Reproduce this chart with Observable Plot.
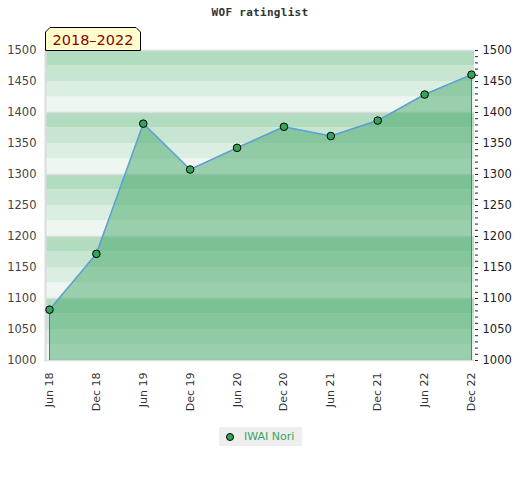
<!DOCTYPE html>
<html>
<head>
<meta charset="utf-8">
<script src="https://cdn.jsdelivr.net/npm/d3@7"></script>
<script src="https://cdn.jsdelivr.net/npm/@observablehq/plot@0.6"></script>
<style>
  body { margin: 0; background: #fff; }
  #wrap { position: relative; width: 520px; height: 480px; font-family: "DejaVu Sans", sans-serif; }
  #title { position: absolute; top: 6px; left: 0; width: 520px; text-align: center;
           font: bold 11px "DejaVu Sans Mono", monospace; color: #333; letter-spacing: 0.3px; }
  #chart { position: absolute; top: 26px; left: 0; }
  #badge { position: absolute; left: 45px; top: 27px; }
  #legend { position: absolute; left: 219px; top: 427px; width: 83px; height: 19px; background: #eee;
            font: 11px "DejaVu Sans", sans-serif; color: #3aa35f; }
  #legend .dot { position: absolute; left: 7px; top: 6px; width: 6px; height: 6px; border-radius: 50%;
                 background: #35a35a; border: 1px solid #000; }
  #legend .lbl { position: absolute; left: 25px; top: 3px; }
</style>
</head>
<body>
<div id="wrap">
  <div id="title">WOF ratinglist</div>
  <div id="chart"></div>
  <svg id="badge" width="97" height="24">
    <polygon points="0.5,23.5 0.5,5 5,0.5 91,0.5 95.5,5 95.5,23.5" fill="#ffffcc" stroke="#000" stroke-width="1"/>
    <text x="48" y="18" text-anchor="middle" font-family="DejaVu Sans" font-size="14.5" fill="#8b0000">2018–2022</text>
  </svg>
  <div id="legend"><span class="dot"></span><span class="lbl">IWAI Nori</span></div>
</div>
<script>
const periods = ["Jun 18","Dec 18","Jun 19","Dec 19","Jun 20","Dec 20","Jun 21","Dec 21","Jun 22","Dec 22"];
const ratings = [1082, 1172, 1382, 1308, 1343, 1377, 1362, 1387, 1429, 1461];
const yTicks = [1000, 1050, 1100, 1150, 1200, 1250, 1300, 1350, 1400, 1450, 1500];
const yMinorTicks = d3.range(1000, 1501, 10);
const bandLines = [1000, 1100, 1200, 1300, 1400, 1500];
const stripeStarts = d3.range(1000, 1500, 25);
const stripeColors = ["#eef6f1", "#dbeee2", "#c8e5d2", "#b2dcc0"];

const data = periods.map((p, i) => ({period: p, rating: ratings[i]}));
const stripes = stripeStarts.map((s, i) => ({y1: s, y2: s + 25, color: stripeColors[i % 4]}));
const ends = [data[0], data[data.length - 1]];

const chart = Plot.plot({
  width: 520,
  height: 394,
  marginTop: 24,
  marginBottom: 60,
  marginLeft: 45,
  marginRight: 46,
  style: {fontFamily: "DejaVu Sans", fontSize: "11px", color: "#444", background: "transparent"},
  x: {type: "point", domain: periods, padding: 0, round: false, insetLeft: 4, insetRight: 3, label: null},
  y: {domain: [1000, 1500], label: null},
  marks: [
    Plot.rectY(stripes, {y1: "y1", y2: "y2", fill: "color"}),
    Plot.ruleY(bandLines, {stroke: "#dcdcdc", strokeWidth: 1.5}),
    Plot.frame({anchor: "left", stroke: "#dcdcdc", strokeWidth: 2}),
    Plot.areaY(data, {x: "period", y1: 1000, y2: "rating", fill: "#3ba35f", fillOpacity: 0.47}),
    Plot.ruleX(ends, {x: "period", y1: 1000, y2: "rating", stroke: "#2e9a50", strokeWidth: 1}),
    Plot.line(data, {x: "period", y: "rating", stroke: "#5f9fd9", strokeWidth: 1.5}),
    Plot.dot(data, {x: "period", y: "rating", r: 3.8, fill: "#35a35a", stroke: "#000", strokeWidth: 1}),
    Plot.axisY({anchor: "left", ticks: yTicks, tickFormat: d => String(d), tickSize: 0, tickPadding: 9, fill: "#444", fontSize: 11.5, label: null}),
    Plot.axisY({anchor: "right", ticks: yTicks, tickFormat: d => String(d), tickSize: 0, tickPadding: 8, fill: "#222", fontSize: 11.5, label: null}),
    Plot.axisY({anchor: "right", ticks: yMinorTicks, tickFormat: () => "", tickSize: 3, stroke: "#222", label: null}),
    Plot.axisX({anchor: "bottom", tickRotate: -90, tickSize: 0, tickPadding: 12, fill: "#333", fontSize: 11, label: null})
  ]
});
document.getElementById("chart").appendChild(chart);
</script>
</body>
</html>
